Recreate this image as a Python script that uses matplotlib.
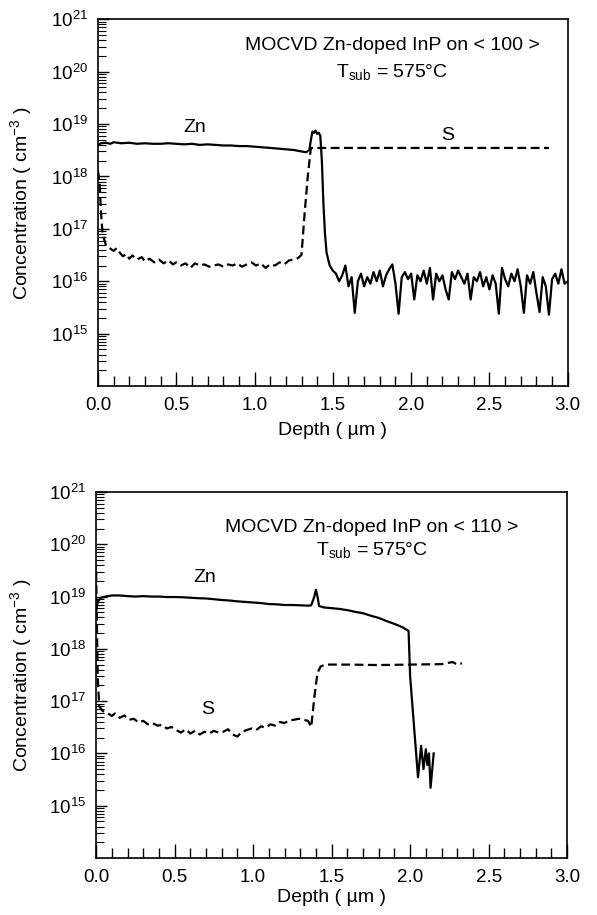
import numpy as np
import matplotlib
matplotlib.use("Agg")
import matplotlib.pyplot as plt
from matplotlib.ticker import LogLocator, MultipleLocator, LogFormatterSciNotation, NullFormatter

plt.rcParams['font.family'] = ['Liberation Sans', 'DejaVu Sans']
plt.rcParams['mathtext.fontset'] = 'custom'
plt.rcParams['mathtext.rm'] = 'Liberation Sans'
plt.rcParams['mathtext.it'] = 'Liberation Sans:italic'
plt.rcParams['mathtext.bf'] = 'Liberation Sans:bold'
plt.rcParams['font.size'] = 13

## Painel de cima: <100>
zn1_depth = [0.00, 0.02, 0.05, 0.08, 0.10, 0.15, 0.20, 0.25, 0.30, 0.35, 0.40, 0.45,
             0.50, 0.55, 0.60, 0.65, 0.70, 0.75, 0.80, 0.85, 0.90, 0.95, 1.00, 1.05,
             1.10, 1.15, 1.20, 1.25, 1.30, 1.33, 1.35, 1.36, 1.37, 1.38, 1.39, 1.40,
             1.41, 1.42, 1.43, 1.44, 1.45, 1.46, 1.48, 1.50]
zn1_conc = [4.0e18, 4.3e18, 4.4e18, 4.2e18, 4.5e18, 4.3e18, 4.4e18, 4.2e18, 4.3e18, 4.2e18,
            4.2e18, 4.3e18, 4.2e18, 4.1e18, 4.2e18, 4.0e18, 4.1e18, 4.0e18, 3.9e18, 3.9e18,
            3.8e18, 3.8e18, 3.7e18, 3.6e18, 3.5e18, 3.4e18, 3.3e18, 3.2e18, 3.0e18, 2.9e18,
            3.2e18, 5.0e18, 7.2e18, 6.8e18, 7.5e18, 6.5e18, 6.8e18, 6.0e18, 2.0e18, 3.0e17,
            8.0e16, 3.5e16, 2.0e16, 1.6e16]
# cauda ruidosa do Zn (1.52 -> 3.00 um, passo 0.02), em 1e15 cm-3
zn1_tail = [14, 10, 13, 20, 8, 12, 2.5, 10, 14, 8, 12, 9, 15, 10, 16, 8, 13, 17, 21, 9,
            2.4, 12, 15, 11, 14, 4.5, 13, 10, 16, 9, 18, 4.5, 14, 10, 13, 7, 4.5, 15, 11, 16,
            12, 9, 14, 4.5, 12, 10, 15, 8, 12, 7, 13, 9, 2.4, 18, 11, 8, 14, 10, 17, 8,
            2.5, 13, 9, 15, 6, 2.6, 12, 8, 2.3, 11, 14, 9, 17, 9, 10]

s1_depth = [0.00, 0.01, 0.02, 0.03, 0.05, 0.08, 0.10, 0.12, 0.14, 0.16, 0.18, 0.20, 0.22,
            0.25, 0.28, 0.30, 0.33, 0.36, 0.39, 0.42, 0.45, 0.48, 0.50, 0.53, 0.56, 0.59,
            0.62, 0.65, 0.68, 0.71, 0.74, 0.77, 0.80, 0.83, 0.86, 0.89, 0.92, 0.95, 0.98,
            1.01, 1.04, 1.07, 1.10, 1.13, 1.16, 1.19, 1.22, 1.25, 1.28, 1.30, 1.32, 1.34,
            1.36, 1.40, 2.88]
s1_conc = [1.3e18, 8e17, 2e17, 8e16, 5e16, 4.2e16, 3.8e16, 4.3e16, 3.5e16, 3.0e16, 3.3e16,
           2.7e16, 3.1e16, 2.6e16, 2.9e16, 2.4e16, 2.7e16, 2.3e16, 2.6e16, 2.2e16, 2.5e16,
           2.1e16, 2.3e16, 2.0e16, 2.2e16, 1.8e16, 2.2e16, 2.0e16, 2.1e16, 1.9e16, 2.0e16,
           2.1e16, 1.9e16, 2.1e16, 2.0e16, 2.2e16, 1.9e16, 2.1e16, 2.3e16, 2.0e16, 2.2e16,
           1.8e16, 2.1e16, 2.0e16, 2.3e16, 2.1e16, 2.5e16, 2.6e16, 2.8e16, 3.2e16, 2e17,
           1e18, 3.5e18, 3.5e18, 3.5e18]

## Painel de baixo: <110>
zn2_depth = [0.00, 0.01, 0.03, 0.06, 0.10, 0.15, 0.20, 0.25, 0.30, 0.35, 0.40, 0.45, 0.50,
             0.55, 0.60, 0.65, 0.70, 0.75, 0.80, 0.85, 0.90, 0.95, 1.00, 1.05, 1.10, 1.15,
             1.20, 1.25, 1.30, 1.35, 1.37, 1.39, 1.40, 1.41, 1.42, 1.45, 1.50, 1.55, 1.60,
             1.65, 1.70, 1.75, 1.80, 1.85, 1.90, 1.95, 1.99, 2.00, 2.02, 2.05, 2.07, 2.085,
             2.10, 2.11, 2.12, 2.13, 2.15]
zn2_conc = [5e18, 8e18, 9.5e18, 1.0e19, 1.05e19, 1.05e19, 1.02e19, 1.0e19, 1.02e19, 1.0e19,
            1.0e19, 9.8e18, 9.8e18, 9.7e18, 9.5e18, 9.3e18, 9.2e18, 8.9e18, 8.6e18, 8.4e18,
            8.1e18, 7.9e18, 7.7e18, 7.5e18, 7.2e18, 7.1e18, 6.9e18, 6.9e18, 6.8e18, 6.7e18,
            6.8e18, 1.0e19, 1.35e19, 1.0e19, 6.6e18, 6.2e18, 6.0e18, 5.8e18, 5.5e18, 5.1e18,
            4.8e18, 4.3e18, 3.9e18, 3.4e18, 3.0e18, 2.6e18, 2.2e18, 3e17, 5e16, 3.5e15,
            1.4e16, 5e15, 1.2e16, 6e15, 1.0e16, 2.2e15, 1.0e16]

s2_depth = [0.00, 0.005, 0.01, 0.02, 0.04, 0.07, 0.10, 0.12, 0.15, 0.18, 0.21, 0.24, 0.27,
            0.30, 0.33, 0.36, 0.39, 0.42, 0.45, 0.48, 0.51, 0.54, 0.57, 0.60, 0.63, 0.66,
            0.69, 0.72, 0.75, 0.78, 0.81, 0.84, 0.87, 0.90, 0.93, 0.96, 0.99, 1.02, 1.05,
            1.08, 1.11, 1.14, 1.17, 1.20, 1.23, 1.26, 1.29, 1.32, 1.35, 1.37, 1.39, 1.41,
            1.43, 1.46, 1.60, 1.80, 2.00, 2.20, 2.27, 2.30, 2.33]
s2_conc = [3e19, 3e18, 3e17, 8e16, 6.5e16, 6e16, 5.2e16, 5.8e16, 4.8e16, 5.3e16, 4.4e16,
           4.6e16, 3.9e16, 4.2e16, 3.6e16, 3.8e16, 3.4e16, 3.5e16, 3.0e16, 3.2e16, 2.8e16,
           2.5e16, 2.9e16, 2.4e16, 2.7e16, 2.3e16, 2.6e16, 2.4e16, 2.7e16, 2.5e16, 2.6e16,
           2.9e16, 2.3e16, 2.1e16, 2.6e16, 2.8e16, 3.0e16, 2.8e16, 3.3e16, 3.1e16, 3.6e16,
           3.4e16, 4.0e16, 3.8e16, 4.3e16, 4.4e16, 4.6e16, 4.4e16, 4.2e16, 3.2e16, 1.2e17,
           3.5e17, 4.6e17, 5.0e17, 5.0e17, 4.9e17, 5.0e17, 5.1e17, 5.6e17, 5.0e17, 5.3e17]

y_ticks = [1e15, 1e16, 1e17, 1e18, 1e19, 1e20, 1e21]


def formata_eixo(ax):
    ax.set_yscale('log')
    ax.set_xlim(0, 3.0)
    ax.set_ylim(1e14, 1e21)
    ax.set_yticks(y_ticks)
    ax.yaxis.set_major_formatter(LogFormatterSciNotation())
    ax.yaxis.set_minor_locator(LogLocator(base=10, subs=np.arange(2, 10)))
    ax.yaxis.set_minor_formatter(NullFormatter())
    ax.xaxis.set_major_locator(MultipleLocator(0.5))
    ax.xaxis.set_minor_locator(MultipleLocator(0.1))
    ax.xaxis.set_major_formatter(matplotlib.ticker.FormatStrFormatter('%.1f'))
    ax.tick_params(axis='x', which='major', direction='in', length=10, width=1, pad=8,
                   top=False, labelsize=13.5)
    ax.tick_params(axis='x', which='minor', direction='in', length=7, width=1, top=False)
    ax.tick_params(axis='y', which='major', direction='in', length=8, width=1, pad=7,
                   right=False, labelsize=13.5)
    ax.tick_params(axis='y', which='minor', direction='in', length=5.5, width=0.8, right=False)
    for s in ax.spines.values():
        s.set_linewidth(1.2)
    ax.set_xlabel('Depth ( \u00b5m )', fontsize=14)
    ax.set_ylabel('Concentration ( cm$^{-3}$ )', fontsize=14)


fig = plt.figure(figsize=(5.97, 9.15), dpi=100)
ax1 = fig.add_axes([0.164, 0.578, 0.787, 0.401])
ax2 = fig.add_axes([0.161, 0.0623, 0.789, 0.400])

zn1_tail_depth = np.linspace(1.52, 3.0, len(zn1_tail))
ax1.plot(zn1_depth + list(zn1_tail_depth), zn1_conc + [v * 1e15 for v in zn1_tail],
         color='black', lw=1.6)
ax1.plot(s1_depth, s1_conc, color='black', lw=1.6, linestyle=(0, (4, 2)))
formata_eixo(ax1)
ax1.text(0.626, 0.929, 'MOCVD Zn-doped InP on < 100 >', transform=ax1.transAxes,
         ha='center', va='center', fontsize=14)
ax1.text(0.626, 0.856, 'T$_{\\mathrm{sub}}$ = 575\u00b0C', transform=ax1.transAxes,
         ha='center', va='center', fontsize=14)
ax1.text(0.62, 8.7e18, 'Zn', ha='center', va='center', fontsize=14)
ax1.text(2.23, 6e18, 'S', ha='center', va='center', fontsize=14)
ax1.xaxis.set_label_coords(0.5, -0.098)
ax1.yaxis.set_label_coords(-0.136, 0.5)

ax2.plot(zn2_depth, zn2_conc, color='black', lw=1.6)
ax2.plot(s2_depth, s2_conc, color='black', lw=1.6, linestyle=(0, (4, 2)))
formata_eixo(ax2)
ax2.text(0.586, 0.904, 'MOCVD Zn-doped InP on < 110 >', transform=ax2.transAxes,
         ha='center', va='center', fontsize=14)
ax2.text(0.586, 0.842, 'T$_{\\mathrm{sub}}$ = 575\u00b0C', transform=ax2.transAxes,
         ha='center', va='center', fontsize=14)
ax2.text(0.69, 2.3e19, 'Zn', ha='center', va='center', fontsize=14)
ax2.text(0.71, 7e16, 'S', ha='center', va='center', fontsize=14)
ax2.xaxis.set_label_coords(0.5, -0.085)
ax2.yaxis.set_label_coords(-0.132, 0.5)

fig.savefig('out.png', dpi=100)
